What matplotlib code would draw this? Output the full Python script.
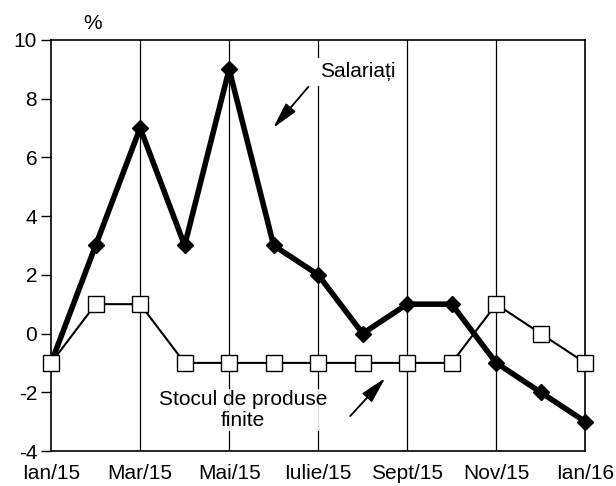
import matplotlib
matplotlib.use("Agg")
import matplotlib.pyplot as plt

plt.rcParams['font.family'] = ['Liberation Sans', 'DejaVu Sans']
plt.rcParams['axes.unicode_minus'] = False

months = ["Ian/15", "Feb/15", "Mar/15", "Apr/15", "Mai/15", "Iun/15", "Iulie/15",
          "Aug/15", "Sept/15", "Oct/15", "Nov/15", "Dec/15", "Ian/16"]
salariati = [-1, 3, 7, 3, 9, 3, 2, 0, 1, 1, -1, -2, -3]
stocul = [-1, 1, 1, -1, -1, -1, -1, -1, -1, -1, 1, 0, -1]
tick_pos = [0, 2, 4, 6, 8, 10, 12]
yticks = [-4, -2, 0, 2, 4, 6, 8, 10]

fs = 15

fig = plt.figure(figsize=(6.16, 4.86), dpi=100)
ax = fig.add_axes([0.083, 0.072, 0.867, 0.846])

x = list(range(len(months)))
ax.plot(x, salariati, color="black", lw=4, marker="D", ms=8, zorder=3, clip_on=False)
ax.plot(x, stocul, color="black", lw=1.5, marker="s", ms=12,
        markerfacecolor="white", markeredgecolor="black", markeredgewidth=1,
        zorder=4, clip_on=False)

ax.set_xlim(0, 12)
ax.set_ylim(-4, 10)
ax.set_xticks(tick_pos)
ax.set_xticklabels([months[i] for i in tick_pos])
ax.set_yticks(yticks)
for p in tick_pos[1:-1]:
    ax.axvline(p, color="black", lw=0.9, zorder=1)
ax.tick_params(axis="x", length=0, pad=9, labelsize=fs)
ax.tick_params(axis="y", length=7, width=1, pad=3, labelsize=fs)
for s in ax.spines.values():
    s.set_linewidth(1.2)

ax.text(0.92, 10.25, "%", fontsize=fs, ha="center", va="bottom")

arrow = dict(arrowstyle="-|>,head_length=0.9,head_width=0.22", color="black",
             lw=1.3, mutation_scale=18, shrinkA=0, shrinkB=0)
ax.annotate("", xy=(4.99, 7.0), xytext=(5.78, 8.4), arrowprops=arrow)
ax.text(6.05, 8.91, "Salariați", fontsize=fs, ha="left", va="center",
        bbox=dict(facecolor="white", edgecolor="none", pad=3), zorder=2)

ax.annotate("", xy=(7.51, -1.51), xytext=(6.72, -2.81), arrowprops=arrow)
ax.text(4.31, -2.60, "Stocul de produse\nfinite", fontsize=fs, ha="center", va="center",
        linespacing=1.1,
        bbox=dict(facecolor="white", edgecolor="none", alpha=0.85, pad=1), zorder=2)

fig.savefig("out.png", dpi=100)
